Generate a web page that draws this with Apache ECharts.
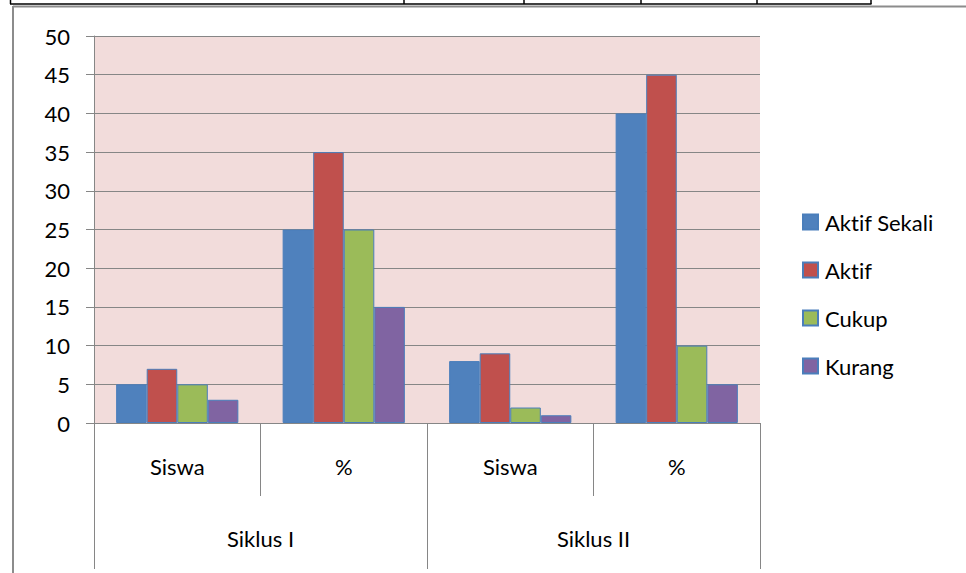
<!DOCTYPE html>
<html>
<head>
<meta charset="utf-8">
<script src="https://cdn.jsdelivr.net/npm/echarts@6/dist/echarts.min.js"></script>
<style>
  html, body { margin: 0; padding: 0; background: #ffffff; }
  #chart { width: 966px; height: 573px; }
  #chart text { font-variant-ligatures: none; font-feature-settings: "liga" 0, "clig" 0; }
</style>
</head>
<body>
<div id="chart"></div>
<script>
// Categories: inner level (per column) and outer level (per cycle)
const categories = ['Siswa', '%', 'Siswa', '%'];
const cycles = ['Siklus I', 'Siklus II'];

// Series values per column
const seriesNames = ['Aktif Sekali', 'Aktif', 'Cukup', 'Kurang'];
const aktifSekali = [5, 25, 8, 40];
const aktif = [7, 35, 9, 45];
const cukup = [5, 25, 2, 10];
const kurang = [3, 15, 1, 5];

// Value axis range
const yMin = 0;
const yMax = 50;
const yStep = 5;

const colors = ['#4f81bd', '#c0504d', '#9bbb59', '#8064a2'];
const seriesData = [aktifSekali, aktif, cukup, kurang];

const FONT = 'Lato, "Open Sans", sans-serif';
const FONT_SIZE = 22;
const AXIS_GREY = '#868686';

const chart = echarts.init(document.getElementById('chart'), null, { renderer: 'svg' });

const series = seriesNames.map((name, i) => ({
  name: name,
  type: 'bar',
  xAxisIndex: 0,
  data: seriesData[i],
  barGap: '0%',
  barCategoryGap: '26.6%',
  itemStyle: { color: colors[i], borderColor: '#4a7ebb', borderWidth: 1 }
}));

// Page decoration: table edge above the chart and the chart frame
function line(x1, y1, x2, y2, color, width) {
  return {
    type: 'line', silent: true,
    shape: { x1: x1, y1: y1, x2: x2, y2: y2 },
    style: { stroke: color, lineWidth: width }
  };
}
const tableCols = [10.5, 404, 524, 641, 757, 871];
const decorations = [
  line(10, 4, 871.5, 4, '#000000', 1.5),
  line(13, 6.5, 966, 6.5, '#8c8c8c', 2),
  line(13, 6, 13, 573, '#8c8c8c', 2)
].concat(tableCols.map(x => line(x, 0, x, 4, '#000000', 1.5)));

chart.setOption({
  animation: false,
  backgroundColor: '#ffffff',
  color: colors,
  graphic: decorations,
  grid: {
    left: 94, right: 206, top: 36, bottom: 150,
    show: true, backgroundColor: '#f2dcdb', borderWidth: 0
  },
  legend: {
    orient: 'vertical',
    left: 802, top: 210,
    padding: 0,
    itemWidth: 15, itemHeight: 15,
    itemGap: 24,
    icon: 'rect',
    data: seriesNames,
    textStyle: { fontFamily: FONT, fontSize: FONT_SIZE, color: '#000000', lineHeight: 24, padding: [0, 0, 0, 2] }
  },
  xAxis: [
    {
      type: 'category',
      data: categories,
      position: 'bottom',
      axisLine: { show: true, lineStyle: { color: AXIS_GREY, width: 1 } },
      axisTick: { show: true, length: 73, lineStyle: { color: AXIS_GREY, width: 1 } },
      axisLabel: { margin: 32, fontFamily: FONT, fontSize: FONT_SIZE, color: '#000000' },
      splitLine: { show: false }
    },
    {
      type: 'category',
      data: cycles,
      position: 'bottom',
      axisLine: { show: false },
      axisTick: { show: true, length: 146, lineStyle: { color: AXIS_GREY, width: 1 } },
      axisLabel: { margin: 104, fontFamily: FONT, fontSize: FONT_SIZE, color: '#000000' },
      splitLine: { show: false }
    }
  ],
  yAxis: {
    type: 'value',
    min: yMin, max: yMax, interval: yStep,
    axisLine: { show: true, lineStyle: { color: AXIS_GREY, width: 1 } },
    axisTick: { show: true, length: 8, lineStyle: { color: AXIS_GREY, width: 1 } },
    axisLabel: { margin: 24, fontFamily: FONT, fontSize: FONT_SIZE, color: '#000000' },
    splitLine: { show: true, lineStyle: { color: AXIS_GREY, width: 1 } }
  },
  series: series
});
</script>
</body>
</html>
